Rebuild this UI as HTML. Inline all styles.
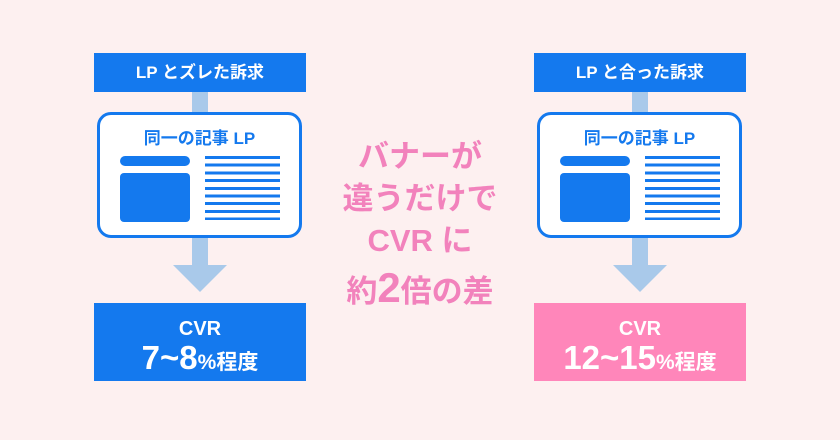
<!DOCTYPE html>
<html><head><meta charset="utf-8"><style>
body{margin:0;width:840px;height:440px;background:#fdf0f0;position:relative;overflow:hidden;font-family:"Liberation Sans","Noto Sans CJK JP",sans-serif;font-weight:bold}
.a{position:absolute}
.lab{background:#1479ee;color:#fff;text-align:center;font-size:17px;line-height:39px;width:212px;height:39px}
.card{width:199px;height:120px;border:3px solid #1479ee;border-radius:14px;background:#fff}
.res{width:212px;height:78px;color:#fff;text-align:center}
.c{color:#f282bc;font-size:31px;text-align:center;width:240px;left:300px}
</style></head><body>
<!-- left -->
<div class="a" style="left:192px;top:92px;width:16px;height:175px;background:#a9c9ea"></div>
<div class="a" style="left:173px;top:265px;width:0;height:0;border-left:27px solid transparent;border-right:27px solid transparent;border-top:27px solid #a9c9ea"></div>
<div class="a lab" style="left:94px;top:53px">LP とズレた訴求</div>
<div class="a card" style="left:97px;top:112px"></div>
<div class="a" style="left:97px;top:124px;width:205px;text-align:center;color:#1479ee;font-size:17px">同一の記事 LP</div>
<div class="a" style="left:120px;top:156px;width:70px;height:10px;border-radius:5px;background:#1479ee"></div>
<div class="a" style="left:120px;top:173px;width:70px;height:49px;border-radius:4px;background:#1479ee"></div>
<div class="a" style="left:205px;top:156px;width:75px;height:64px;background:repeating-linear-gradient(#1479ee 0 3px,transparent 3px 7.7px)"></div>
<div class="a res" style="left:94px;top:303px;background:#1479ee"><div style="font-size:20px;margin-top:14px;line-height:24px">CVR</div><div style="font-size:33px;line-height:34px">7~8<span style="font-size:21px">%程度</span></div></div>
<!-- right -->
<div class="a" style="left:632px;top:92px;width:16px;height:175px;background:#a9c9ea"></div>
<div class="a" style="left:613px;top:265px;width:0;height:0;border-left:27px solid transparent;border-right:27px solid transparent;border-top:27px solid #a9c9ea"></div>
<div class="a lab" style="left:534px;top:53px">LP と合った訴求</div>
<div class="a card" style="left:537px;top:112px"></div>
<div class="a" style="left:537px;top:124px;width:205px;text-align:center;color:#1479ee;font-size:17px">同一の記事 LP</div>
<div class="a" style="left:560px;top:156px;width:70px;height:10px;border-radius:5px;background:#1479ee"></div>
<div class="a" style="left:560px;top:173px;width:70px;height:49px;border-radius:4px;background:#1479ee"></div>
<div class="a" style="left:645px;top:156px;width:75px;height:64px;background:repeating-linear-gradient(#1479ee 0 3px,transparent 3px 7.7px)"></div>
<div class="a res" style="left:534px;top:303px;background:#ff86ba"><div style="font-size:20px;margin-top:14px;line-height:24px">CVR</div><div style="font-size:33px;line-height:34px">12~15<span style="font-size:21px">%程度</span></div></div>
<!-- center -->
<div class="a c" style="top:131px">バナーが</div>
<div class="a c" style="top:173px">違うだけで</div>
<div class="a c" style="top:215px">CVR に</div>
<div class="a c" style="top:264px">約<span style="font-size:42px">2</span>倍の差</div>
</body></html>
